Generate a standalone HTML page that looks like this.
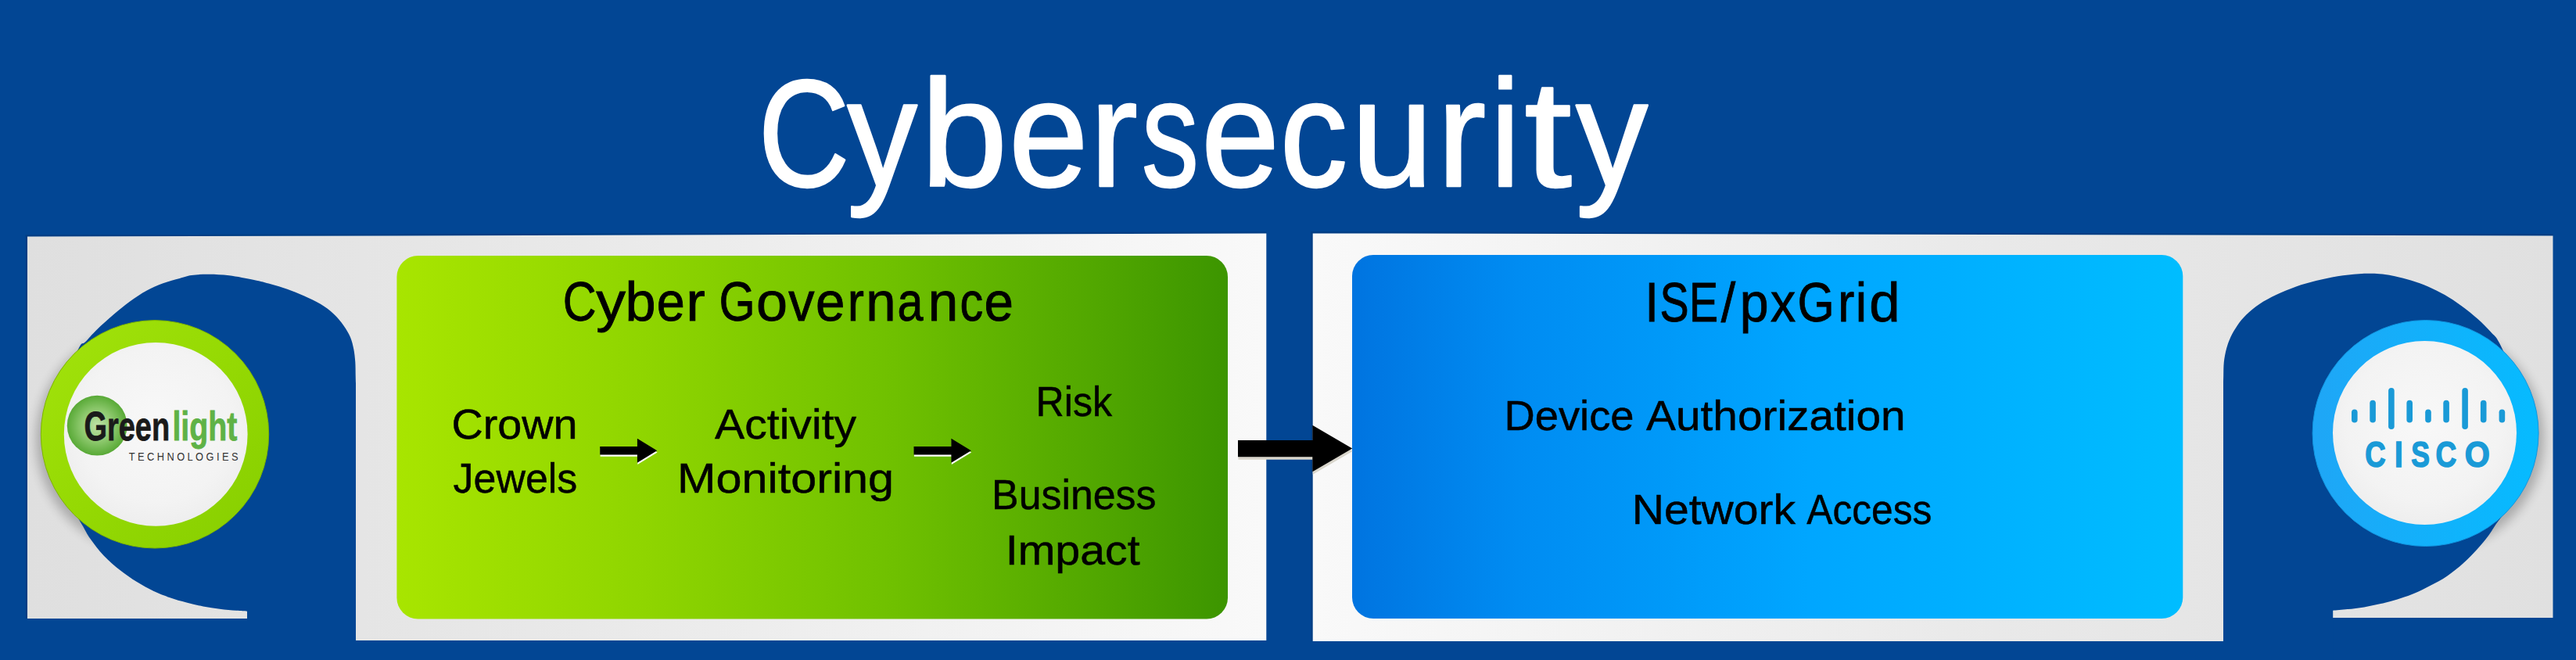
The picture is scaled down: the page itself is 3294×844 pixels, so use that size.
<!DOCTYPE html>
<html><head><meta charset="utf-8"><title>Cybersecurity</title>
<style>
html,body{margin:0;padding:0;background:#024694;}
body{width:3294px;height:844px;overflow:hidden;font-family:"Liberation Sans",sans-serif;}
svg{display:block}
text{font-family:"Liberation Sans",sans-serif;font-kerning:none;}
</style></head><body>
<svg width="3294" height="844" viewBox="0 0 3294 844">
<defs>
<linearGradient id="pl" x1="35" x2="1619" y1="0" y2="0" gradientUnits="userSpaceOnUse">
<stop offset="0" stop-color="#dfdfdf"/><stop offset="0.45" stop-color="#e9e9e9"/><stop offset="1" stop-color="#f9f9f9"/></linearGradient>
<linearGradient id="pr" x1="1679" x2="3265" y1="0" y2="0" gradientUnits="userSpaceOnUse">
<stop offset="0" stop-color="#f9f9f9"/><stop offset="0.55" stop-color="#e9e9e9"/><stop offset="1" stop-color="#e0e0e0"/></linearGradient>
<linearGradient id="gg" x1="507" x2="1570" y1="0" y2="0" gradientUnits="userSpaceOnUse">
<stop offset="0" stop-color="#a8e500"/><stop offset="0.3" stop-color="#8fd500"/><stop offset="0.6" stop-color="#6fc000"/><stop offset="0.85" stop-color="#50a600"/><stop offset="1" stop-color="#3c9500"/></linearGradient>
<linearGradient id="bg" x1="1729" x2="2791" y1="0" y2="0" gradientUnits="userSpaceOnUse">
<stop offset="0" stop-color="#0074e0"/><stop offset="0.2" stop-color="#008cf2"/><stop offset="0.55" stop-color="#00a6ff"/><stop offset="1" stop-color="#00bdff"/></linearGradient>
<linearGradient id="rg" x1="0" x2="1" y1="0" y2="1">
<stop offset="0" stop-color="#a3e30c"/><stop offset="0.5" stop-color="#95d903"/><stop offset="1" stop-color="#86ce00"/></linearGradient>
<linearGradient id="rb" x1="0" x2="1" y1="0" y2="0">
<stop offset="0" stop-color="#1fa6f6"/><stop offset="1" stop-color="#06bbff"/></linearGradient>
<radialGradient id="wi" cx="0.5" cy="0.45" r="0.6">
<stop offset="0" stop-color="#f8f8f8"/><stop offset="0.7" stop-color="#f3f3f3"/><stop offset="1" stop-color="#ececec"/></radialGradient>
<radialGradient id="sph" cx="0.5" cy="0.5" r="0.5">
<stop offset="0" stop-color="#bfe2a8"/><stop offset="0.55" stop-color="#8cc86c"/><stop offset="1" stop-color="#58a936"/></radialGradient>
<filter id="sh" x="-20%" y="-20%" width="140%" height="140%"><feGaussianBlur stdDeviation="7"/></filter>
</defs>
<rect width="3294" height="844" fill="#024694"/>
<!-- left panel -->
<path d="M33.8,819 L33.8,301.4 L1619.3,297.4" fill="none" stroke="#013877" stroke-opacity="0.55" stroke-width="2.4"/>
<path d="M35,302.6 L1619.3,298.6 L1619.3,819 L35,819 Z" fill="url(#pl)"/>
<circle cx="191" cy="562" r="145" fill="#000" opacity="0.24" filter="url(#sh)"/>
<rect x="0" y="791" width="455" height="60" fill="#024694"/>
<path d="M455,844 L455,490 C454.9,488.3 454.8,484.5 454.7,480.0 C454.6,475.5 454.7,468.7 454.3,463.0 C453.9,457.3 453.2,451.3 452.2,446.0 C451.1,440.7 450.1,436.1 448.0,431.2 C445.9,426.3 443.1,421.3 439.5,416.4 C435.9,411.4 431.6,406.1 426.7,401.5 C421.8,396.9 416.2,392.7 409.8,388.8 C403.4,384.9 395.6,381.4 388.5,378.2 C381.4,375.0 374.4,372.2 367.3,369.7 C360.2,367.2 353.2,365.2 346.1,363.3 C339.0,361.4 333.8,359.8 324.9,358.0 C316.0,356.2 302.6,353.5 293.0,352.3 C283.4,351.1 275.6,350.8 267.6,350.7 C259.6,350.6 251.3,351.1 245.0,352.0 C238.7,352.9 235.9,354.2 229.8,355.9 C223.7,357.6 215.6,359.6 208.5,362.3 C201.4,365.0 194.4,367.9 187.3,371.8 C180.2,375.7 173.2,380.5 166.1,385.6 C159.0,390.7 152.0,396.6 144.9,402.6 C137.8,408.6 129.7,415.9 123.7,421.7 C117.7,427.5 112.5,433.9 108.8,437.6 C105.1,441.3 105.4,436.6 101.4,444.0 C97.4,451.4 89.7,467.7 85.0,482.0 C80.3,496.3 75.5,516.0 73.0,530.0 C70.5,544.0 69.5,552.3 70.0,566.0 C70.5,579.7 72.7,598.8 76.0,612.0 C79.3,625.2 85.2,635.2 90.0,645.0 C94.8,654.8 100.7,663.6 104.9,670.9 C109.2,678.2 110.9,682.5 115.5,689.0 C120.1,695.5 126.0,703.5 132.4,710.2 C138.8,716.9 146.6,723.6 153.7,729.3 C160.8,734.9 167.8,739.7 174.9,744.1 C182.0,748.5 189.0,752.4 196.1,755.8 C203.2,759.2 210.2,761.8 217.3,764.3 C224.4,766.8 231.4,768.7 238.5,770.6 C245.6,772.5 252.7,774.1 259.8,775.5 C266.9,776.9 273.9,777.8 281.0,778.7 C288.1,779.6 296.4,780.3 302.2,780.8 C308.0,781.3 313.7,781.6 316.0,781.7 L316,844 Z" fill="#024694"/>
<!-- right panel -->
<path d="M1677.5,820 L1677.5,297.2 L3264.5,300.3" fill="none" stroke="#013877" stroke-opacity="0.55" stroke-width="2.4"/>
<path d="M1678.7,298.4 L3264.5,301.5 L3264.5,820 L1678.7,820 Z" fill="url(#pr)"/>
<circle cx="3109" cy="561" r="144" fill="#000" opacity="0.24" filter="url(#sh)"/>
<rect x="2843" y="790" width="460" height="60" fill="#024694"/>
<path d="M2843,844 L2843,490 C2843.0,488.3 2843.1,484.5 2843.2,480.0 C2843.3,475.5 2843.2,468.8 2843.8,463.1 C2844.4,457.5 2845.6,451.4 2847.0,446.1 C2848.4,440.8 2850.0,436.1 2852.3,431.2 C2854.6,426.2 2857.5,421.2 2860.8,416.4 C2864.2,411.6 2867.6,407.2 2872.4,402.6 C2877.2,398.0 2883.0,393.1 2889.4,388.8 C2895.8,384.6 2902.8,380.8 2910.6,377.1 C2918.4,373.4 2927.6,369.5 2936.1,366.5 C2944.6,363.5 2952.8,361.3 2961.6,359.1 C2970.4,356.9 2980.0,354.7 2989.2,353.2 C2998.4,351.7 3007.9,350.7 3016.7,350.2 C3025.5,349.7 3034.6,349.7 3042.2,350.2 C3049.8,350.7 3055.5,351.8 3062.4,353.2 C3069.3,354.6 3076.6,356.5 3083.7,358.7 C3090.8,360.9 3097.8,363.4 3104.9,366.5 C3112.0,369.6 3119.0,373.0 3126.1,377.1 C3133.2,381.2 3140.2,385.8 3147.3,390.9 C3154.4,396.0 3162.1,402.2 3168.5,407.9 C3174.9,413.6 3180.9,419.8 3185.5,424.9 C3190.1,430.0 3191.2,429.2 3196.1,438.7 C3201.0,448.2 3209.8,466.8 3215.0,482.0 C3220.2,497.2 3224.5,516.0 3227.0,530.0 C3229.5,544.0 3230.5,552.3 3230.0,566.0 C3229.5,579.7 3227.3,598.8 3224.0,612.0 C3220.7,625.2 3215.2,635.5 3210.0,645.0 C3204.8,654.5 3197.4,662.2 3192.8,668.8 C3188.2,675.4 3186.4,679.1 3182.2,684.7 C3177.9,690.4 3172.6,696.9 3167.3,702.7 C3162.0,708.5 3156.8,714.0 3150.4,719.7 C3144.0,725.4 3136.2,731.9 3129.1,736.7 C3122.0,741.6 3115.0,745.1 3107.9,748.8 C3100.8,752.5 3093.8,756.1 3086.7,759.0 C3079.6,761.9 3072.6,764.2 3065.5,766.4 C3058.4,768.6 3051.4,770.4 3044.3,772.1 C3037.2,773.8 3030.1,775.2 3023.0,776.4 C3015.9,777.6 3008.4,778.4 3001.8,779.1 C2995.2,779.8 2986.3,780.5 2983.2,780.8 L2983.2,844 Z" fill="#024694"/>
<!-- boxes -->
<rect x="507.4" y="327" width="1062.6" height="464.5" rx="27" fill="url(#gg)"/>
<rect x="1729" y="326" width="1062.3" height="465" rx="27" fill="url(#bg)"/>
<!-- rings -->
<circle cx="198" cy="555.3" r="145.7" fill="url(#rg)" stroke="#7db400" stroke-width="1"/>
<circle cx="199.2" cy="555.3" r="117.4" fill="url(#wi)"/>
<circle cx="3101.6" cy="554" r="144.5" fill="url(#rb)" stroke="#1196e0" stroke-width="1"/>
<circle cx="3100.5" cy="553.5" r="117.5" fill="url(#wi)"/>
<!-- greenlight sphere -->
<circle cx="124.2" cy="544.2" r="38.4" fill="url(#sph)"/>
<rect x="3007.0" y="523.5" width="7.6" height="17.0" rx="3.8" fill="#1a9ad7"/>
<rect x="3030.3" y="511.8" width="7.6" height="28.7" rx="3.8" fill="#1a9ad7"/>
<rect x="3054.1" y="495.9" width="7.6" height="53.1" rx="3.8" fill="#1a9ad7"/>
<rect x="3077.4" y="511.8" width="7.6" height="28.7" rx="3.8" fill="#1a9ad7"/>
<rect x="3101.2" y="523.5" width="7.6" height="17.0" rx="3.8" fill="#1a9ad7"/>
<rect x="3124.3" y="511.8" width="7.6" height="28.7" rx="3.8" fill="#1a9ad7"/>
<rect x="3148.3" y="495.9" width="7.6" height="53.1" rx="3.8" fill="#1a9ad7"/>
<rect x="3171.9" y="511.8" width="7.6" height="28.7" rx="3.8" fill="#1a9ad7"/>
<rect x="3195.6" y="523.5" width="7.6" height="17.0" rx="3.8" fill="#1a9ad7"/>
<!-- arrows -->
<path d="M767.2,571.0 L814.9,571.0 L814.9,560.8 L840.2,576.3 L814.9,591.8 L814.9,581.5999999999999 L767.2,581.5999999999999 Z" fill="#fff" transform="translate(0.4,2.2)"/><path d="M767.2,571.0 L814.9,571.0 L814.9,560.8 L840.2,576.3 L814.9,591.8 L814.9,581.5999999999999 L767.2,581.5999999999999 Z" fill="#000"/>
<path d="M1168.5,571.0 L1216.4,571.0 L1216.4,560.8 L1241.8,576.3 L1216.4,591.8 L1216.4,581.5999999999999 L1168.5,581.5999999999999 Z" fill="#fff" transform="translate(0.4,2.2)"/><path d="M1168.5,571.0 L1216.4,571.0 L1216.4,560.8 L1241.8,576.3 L1216.4,591.8 L1216.4,581.5999999999999 L1168.5,581.5999999999999 Z" fill="#000"/>
<path d="M1583,563.0 L1678.3,563.0 L1678.3,543.85 L1729.2,573.6 L1678.3,603.35 L1678.3,584.2 L1583,584.2 Z" fill="#d9d6cc" transform="translate(0.4,3.5)"/><path d="M1583,563.0 L1678.3,563.0 L1678.3,543.85 L1729.2,573.6 L1678.3,603.35 L1678.3,584.2 L1583,584.2 Z" fill="#000"/>
<text y="237.80" font-size="195.00" fill="#fff" stroke="#fff" stroke-width="2.4" stroke-linejoin="round"><tspan x="969.47" textLength="117.00" lengthAdjust="spacingAndGlyphs">C</tspan><tspan x="1083.26" textLength="89.69" lengthAdjust="spacingAndGlyphs">y</tspan><tspan x="1177.32" textLength="111.18" lengthAdjust="spacingAndGlyphs">b</tspan><tspan x="1290.04" textLength="101.57" lengthAdjust="spacingAndGlyphs">e</tspan><tspan x="1393.71" textLength="61.14" lengthAdjust="spacingAndGlyphs">r</tspan><tspan x="1459.63" textLength="73.25" lengthAdjust="spacingAndGlyphs">s</tspan><tspan x="1536.06" textLength="100.03" lengthAdjust="spacingAndGlyphs">e</tspan><tspan x="1636.85" textLength="86.51" lengthAdjust="spacingAndGlyphs">c</tspan><tspan x="1728.12" textLength="104.34" lengthAdjust="spacingAndGlyphs">u</tspan><tspan x="1837.64" textLength="62.47" lengthAdjust="spacingAndGlyphs">r</tspan><tspan x="1905.71" textLength="38.17" lengthAdjust="spacingAndGlyphs">i</tspan><tspan x="1949.19" textLength="60.71" lengthAdjust="spacingAndGlyphs">t</tspan><tspan x="2015.05" textLength="92.31" lengthAdjust="spacingAndGlyphs">y</tspan></text>
<text y="410.20" font-size="71.00" fill="#000" stroke="#000" stroke-width="0.9"><tspan x="719.78" textLength="42.80" lengthAdjust="spacingAndGlyphs">C</tspan><tspan x="762.38" textLength="37.71" lengthAdjust="spacingAndGlyphs">y</tspan><tspan x="799.42" textLength="39.08" lengthAdjust="spacingAndGlyphs">b</tspan><tspan x="839.70" textLength="36.03" lengthAdjust="spacingAndGlyphs">e</tspan><tspan x="877.26" textLength="24.51" lengthAdjust="spacingAndGlyphs">r</tspan> <tspan x="919.53" textLength="46.10" lengthAdjust="spacingAndGlyphs">G</tspan><tspan x="967.03" textLength="40.05" lengthAdjust="spacingAndGlyphs">o</tspan><tspan x="1008.32" textLength="33.25" lengthAdjust="spacingAndGlyphs">v</tspan><tspan x="1042.99" textLength="37.45" lengthAdjust="spacingAndGlyphs">e</tspan><tspan x="1083.73" textLength="21.18" lengthAdjust="spacingAndGlyphs">r</tspan><tspan x="1107.37" textLength="38.36" lengthAdjust="spacingAndGlyphs">n</tspan><tspan x="1147.41" textLength="32.96" lengthAdjust="spacingAndGlyphs">a</tspan><tspan x="1186.65" textLength="38.49" lengthAdjust="spacingAndGlyphs">n</tspan><tspan x="1227.43" textLength="29.69" lengthAdjust="spacingAndGlyphs">c</tspan><tspan x="1258.39" textLength="37.45" lengthAdjust="spacingAndGlyphs">e</tspan></text>
<text y="560.50" font-size="54.50" fill="#000" stroke="#000" stroke-width="0.5"><tspan x="577.57" textLength="161.05" lengthAdjust="spacingAndGlyphs">Crown</tspan></text>
<text y="630.00" font-size="54.50" fill="#000" stroke="#000" stroke-width="0.5"><tspan x="579.59" textLength="158.69" lengthAdjust="spacingAndGlyphs">Jewels</tspan></text>
<text y="560.50" font-size="54.50" fill="#000" stroke="#000" stroke-width="0.5"><tspan x="914.09" textLength="181.02" lengthAdjust="spacingAndGlyphs">Activity</tspan></text>
<text y="630.00" font-size="54.50" fill="#000" stroke="#000" stroke-width="0.5"><tspan x="866.03" textLength="277.09" lengthAdjust="spacingAndGlyphs">Monitoring</tspan></text>
<text y="532.20" font-size="54.50" fill="#000" stroke="#000" stroke-width="0.5"><tspan x="1324.59" textLength="97.44" lengthAdjust="spacingAndGlyphs">Risk</tspan></text>
<text y="651.00" font-size="54.50" fill="#000" stroke="#000" stroke-width="0.5"><tspan x="1268.05" textLength="210.43" lengthAdjust="spacingAndGlyphs">Business</tspan></text>
<text y="721.50" font-size="54.50" fill="#000" stroke="#000" stroke-width="0.5"><tspan x="1285.71" textLength="172.01" lengthAdjust="spacingAndGlyphs">Impact</tspan></text>
<text y="410.80" font-size="71.00" fill="#000" stroke="#000" stroke-width="0.9"><tspan x="2103.21" textLength="17.87" lengthAdjust="spacingAndGlyphs">I</tspan><tspan x="2122.42" textLength="37.10" lengthAdjust="spacingAndGlyphs">S</tspan><tspan x="2159.97" textLength="37.10" lengthAdjust="spacingAndGlyphs">E</tspan><tspan x="2200.73" textLength="18.44" lengthAdjust="spacingAndGlyphs">/</tspan><tspan x="2224.78" textLength="36.85" lengthAdjust="spacingAndGlyphs">p</tspan><tspan x="2264.03" textLength="32.11" lengthAdjust="spacingAndGlyphs">x</tspan><tspan x="2298.40" textLength="47.18" lengthAdjust="spacingAndGlyphs">G</tspan><tspan x="2350.15" textLength="21.05" lengthAdjust="spacingAndGlyphs">r</tspan><tspan x="2372.71" textLength="14.41" lengthAdjust="spacingAndGlyphs">i</tspan><tspan x="2390.16" textLength="39.37" lengthAdjust="spacingAndGlyphs">d</tspan></text>
<text y="549.80" font-size="54.50" fill="#000" stroke="#000" stroke-width="0.5"><tspan x="1923.55" textLength="165.97" lengthAdjust="spacingAndGlyphs">Device</tspan> <tspan x="2105.09" textLength="331.50" lengthAdjust="spacingAndGlyphs">Authorization</tspan></text>
<text y="670.40" font-size="54.50" fill="#000" stroke="#000" stroke-width="0.5"><tspan x="2086.82" textLength="209.20" lengthAdjust="spacingAndGlyphs">Network</tspan> <tspan x="2310.30" textLength="160.09" lengthAdjust="spacingAndGlyphs">Access</tspan></text>
<text y="562.90" font-size="51.60" fill="#1a1a1a" font-weight="bold" stroke="#1a1a1a" stroke-width="0.8"><tspan x="107.44" textLength="109.71" lengthAdjust="spacingAndGlyphs">Green</tspan></text>
<text y="562.90" font-size="51.60" fill="#5fb246" font-weight="bold" stroke="#5fb246" stroke-width="0.8"><tspan x="220.45" textLength="83.03" lengthAdjust="spacingAndGlyphs">light</tspan></text>
<text transform="translate(164.81,589.10) scale(0.920,1)" font-size="13.95" fill="#333" letter-spacing="3.733">TECHNOLOGIES</text>
<text y="597.00" font-size="47.09" fill="#1a9ad7" font-weight="bold" stroke="#1a9ad7" stroke-width="1.6"><tspan x="3024.30" textLength="26.40" lengthAdjust="spacingAndGlyphs">C</tspan><tspan x="3062.08" textLength="10.73" lengthAdjust="spacingAndGlyphs">I</tspan><tspan x="3083.18" textLength="23.71" lengthAdjust="spacingAndGlyphs">S</tspan><tspan x="3114.48" textLength="26.73" lengthAdjust="spacingAndGlyphs">C</tspan><tspan x="3151.70" textLength="32.05" lengthAdjust="spacingAndGlyphs">O</tspan></text>
</svg>
</body></html>
